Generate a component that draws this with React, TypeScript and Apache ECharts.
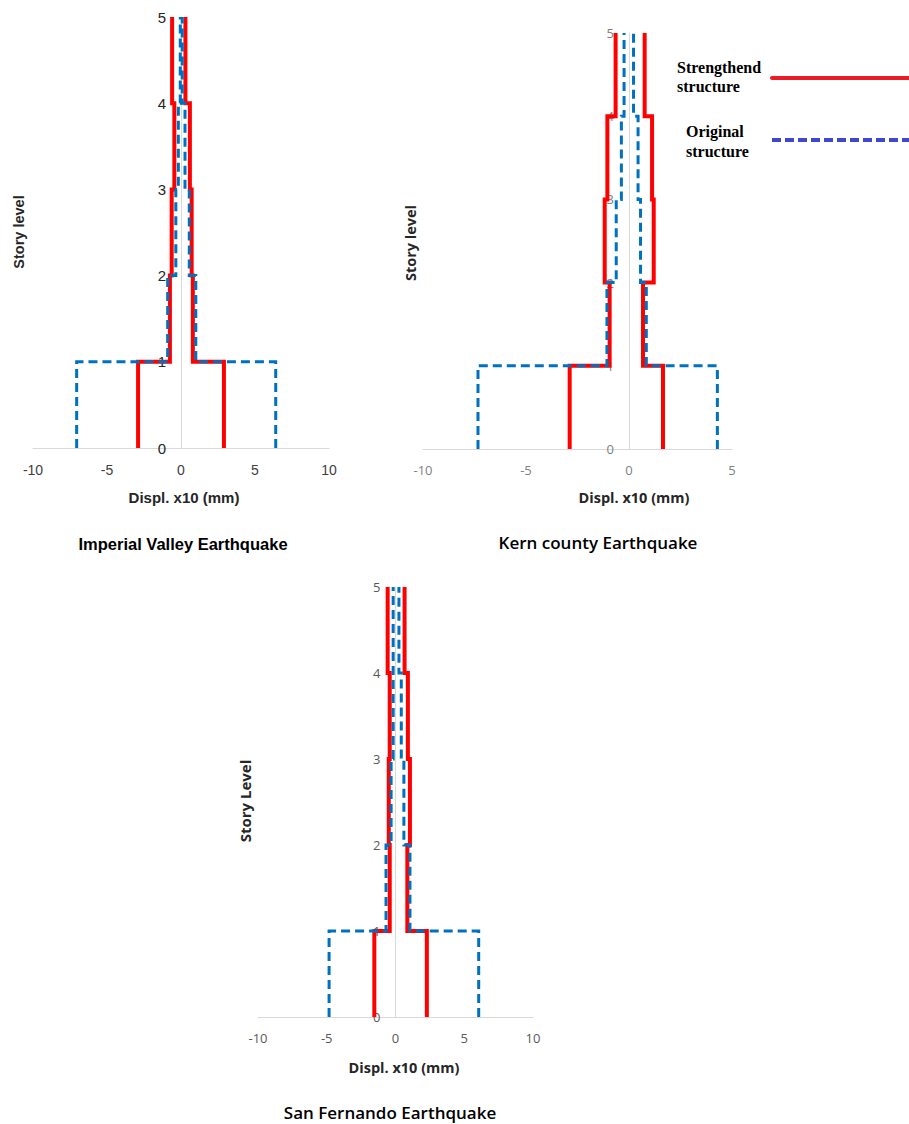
import React, { useEffect, useRef } from "react";
import * as echarts from "echarts";

// Story segments 1..5 (value applies between story i-1 and i)
const storySegments = [1, 2, 3, 4, 5];

// Imperial Valley Earthquake
const ivStrengthMin = [-2.9, -0.75, -0.63, -0.45, -0.6];
const ivStrengthMax = [2.9, 0.8, 0.72, 0.6, 0.3];
const ivOriginalMin = [-7.05, -0.9, -0.35, -0.18, -0.05];
const ivOriginalMax = [6.4, 1.0, 0.56, 0.27, 0.08];

// Kern county Earthquake
const kcStrengthMin = [-2.88, -0.94, -1.18, -1.05, -0.65];
const kcStrengthMax = [1.65, 0.68, 1.2, 1.12, 0.76];
const kcOriginalMin = [-7.33, -1.07, -0.62, -0.37, -0.24];
const kcOriginalMax = [4.29, 0.84, 0.56, 0.44, 0.22];

// San Fernando Earthquake
const sfStrengthMin = [-1.54, -0.42, -0.49, -0.42, -0.57];
const sfStrengthMax = [2.28, 0.86, 1.05, 0.9, 0.66];
const sfOriginalMin = [-4.83, -0.69, -0.32, -0.17, -0.17];
const sfOriginalMax = [6.05, 1.05, 0.61, 0.42, 0.25];

const xTicksWide = { min: -10, max: 10, interval: 5 };
const xTicksKern = { min: -10, max: 5, interval: 5 };
const yTicks = { min: 0, max: 5, interval: 1 };

const RED = "#ff0000";
const BLUE = "#0070c0";

function stepPoints(vals: number[]) {
  const pts: number[][] = [];
  vals.forEach((v, i) => {
    pts.push([v, storySegments[i] - 1]);
    pts.push([v, storySegments[i]]);
  });
  return pts;
}

export default function App() {
  const ref = useRef<HTMLDivElement>(null);
  useEffect(() => {
    if (!ref.current) return;
    const chart = echarts.init(ref.current, null, { renderer: "svg" });

    const grids = [
      { left: 33, top: 17, width: 296, height: 431 },
      { left: 423, top: 33, width: 309, height: 416 },
      { left: 258, top: 587, width: 275, height: 430 },
    ];
    const xLabelStyles = [
      { color: "#404040", fontSize: 14, fontFamily: "Liberation Sans" },
      { color: "#7f7f7f", fontSize: 13, fontFamily: "Open Sans" },
      { color: "#595959", fontSize: 13, fontFamily: "Open Sans" },
    ];
    const yLabelStyles = [
      { color: "#262626", fontSize: 15, fontFamily: "Liberation Sans" },
      { color: "#7f7f7f", fontSize: 13, fontFamily: "Open Sans" },
      { color: "#595959", fontSize: 13, fontFamily: "Open Sans" },
    ];
    const xRanges = [xTicksWide, xTicksKern, xTicksWide];

    const xAxis = xRanges.map((r, i) => ({
      type: "value",
      gridIndex: i,
      min: r.min,
      max: r.max,
      interval: r.interval,
      axisLine: { show: true, onZero: false, lineStyle: { color: "#d9d9d9", width: 1 } },
      axisTick: { show: false },
      splitLine: { show: false },
      axisLabel: { ...xLabelStyles[i], margin: i === 0 ? 15 : 14 },
    }));
    // place the y axis on x = 0 by shifting it into the grid
    const yAxis = [0, 1, 2].map((i) => {
      const r = xRanges[i];
      const shift = ((0 - r.min) / (r.max - r.min)) * grids[i].width;
      return {
        type: "value",
        gridIndex: i,
        position: "left",
        offset: -shift,
        min: yTicks.min,
        max: yTicks.max,
        interval: yTicks.interval,
        axisLine: { show: true, onZero: false, lineStyle: { color: "#d9d9d9", width: 1 } },
        axisTick: { show: false },
        splitLine: { show: false },
        axisLabel: { ...yLabelStyles[i], margin: 15 },
      };
    });

    const sets = [
      [ivOriginalMin, ivOriginalMax, ivStrengthMin, ivStrengthMax],
      [kcOriginalMin, kcOriginalMax, kcStrengthMin, kcStrengthMax],
      [sfOriginalMin, sfOriginalMax, sfStrengthMin, sfStrengthMax],
    ];
    const series: any[] = [];
    sets.forEach((s, gi) => {
      s.forEach((vals, k) => {
        const isOrig = k < 2;
        series.push({
          type: "line",
          name: isOrig ? "Original structure" : "Strengthend structure",
          xAxisIndex: gi,
          yAxisIndex: gi,
          data: stepPoints(vals),
          showSymbol: false,
          symbol: "none",
          clip: false,
          z: isOrig ? 3 : 2,
          lineStyle: isOrig
            ? { color: BLUE, width: 3, type: [9, 5], join: "miter", cap: "butt" }
            : { color: RED, width: 4, join: "miter", cap: "butt" },
        });
      });
    });

    const txt = (
      text: string,
      x: number,
      y: number,
      font: string,
      size: number,
      weight: string,
      color: string,
      rotation = 0,
      align = "center"
    ) => ({
      type: "text",
      x,
      y,
      rotation,
      style: {
        text,
        fontFamily: font,
        fontSize: size,
        fontWeight: weight,
        fill: color,
        align,
        textAlign: align,
        verticalAlign: "middle",
        textVerticalAlign: "middle",
      },
    });

    const graphic: any[] = [
      txt("Displ. x10 (mm)", 184, 497, "Liberation Sans", 15, "bold", "#262626"),
      txt("Imperial Valley Earthquake", 183, 544, "Liberation Sans", 16.5, "bold", "#000000"),
      txt("Story level", 19, 232, "Liberation Sans", 14.5, "bold", "#262626", Math.PI / 2),
      txt("Displ. x10 (mm)", 634, 497, "Open Sans", 14.5, "bold", "#262626"),
      txt("Kern county Earthquake", 598, 542, "Open Sans", 17, "600", "#000000"),
      txt("Story level", 410, 243, "Open Sans", 14.5, "bold", "#262626", Math.PI / 2),
      txt("Displ. x10 (mm)", 404, 1067, "Open Sans", 14.5, "bold", "#262626"),
      txt("San Fernando Earthquake", 390, 1112, "Open Sans", 17, "600", "#000000"),
      txt("Story Level", 245, 801, "Open Sans", 15, "bold", "#262626", Math.PI / 2),
      // legend
      txt("Strengthend", 677, 67, "Liberation Serif", 16, "bold", "#000000", 0, "left"),
      txt("structure", 677, 86, "Liberation Serif", 16, "bold", "#000000", 0, "left"),
      txt("Original", 686, 131, "Liberation Serif", 16, "bold", "#000000", 0, "left"),
      txt("structure", 686, 151, "Liberation Serif", 16, "bold", "#000000", 0, "left"),
      {
        type: "line",
        shape: { x1: 772, y1: 78, x2: 909, y2: 78 },
        style: { stroke: "#ed1c24", lineWidth: 4, lineCap: "round" },
      },
      {
        type: "line",
        shape: { x1: 772, y1: 140, x2: 909, y2: 140 },
        style: { stroke: "#3f48cc", lineWidth: 4, lineDash: [9, 4] },
      },
    ];

    chart.setOption({
      animation: false,
      backgroundColor: "#ffffff",
      grid: grids,
      xAxis,
      yAxis,
      series,
      graphic,
    });
    return () => chart.dispose();
  }, []);
  return (
    <div
      ref={ref}
      style={{ position: "absolute", left: 0, top: 0, width: 909, height: 1124 }}
    />
  );
}
